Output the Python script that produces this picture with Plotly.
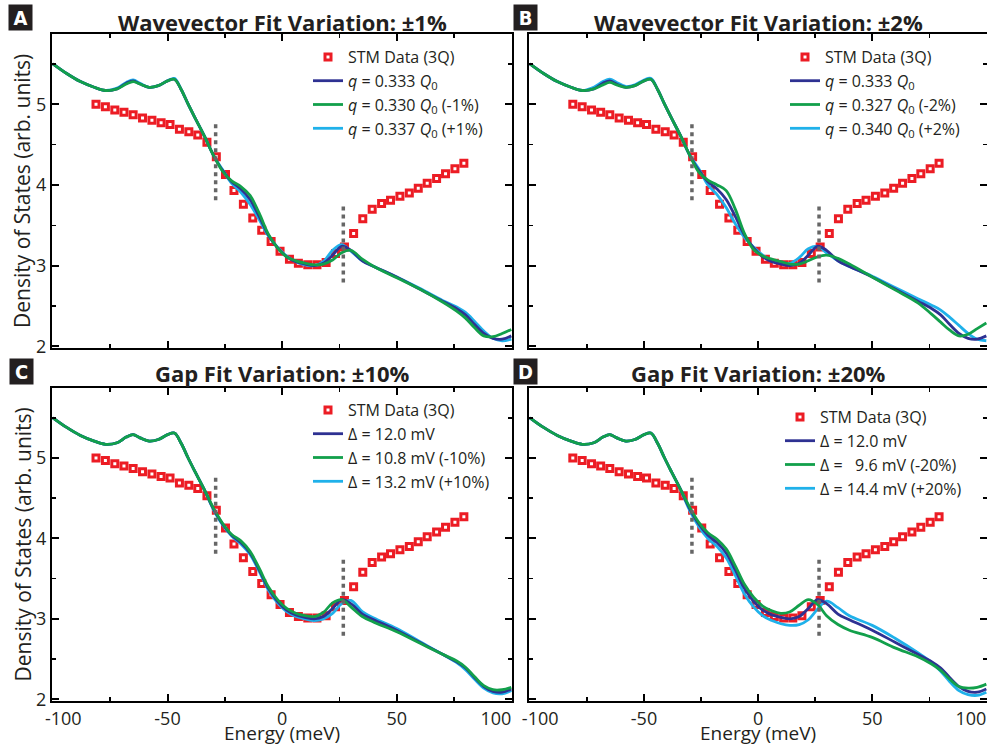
import plotly.graph_objects as go

# ---------------- data ----------------
stm_energy = [-81.2, -77.1, -73.0, -69.0, -65.0, -60.9, -56.8, -52.8, -48.9, -44.8,
              -40.7, -36.8, -32.8, -28.7, -24.7, -21.0, -16.9, -12.8, -8.9, -4.8,
              -0.9, 3.2, 7.1, 11.2, 15.2, 19.2, 23.3, 27.2, 31.2, 35.2,
              39.3, 43.4, 47.3, 51.4, 55.5, 59.4, 63.3, 67.4, 71.3, 75.4, 79.3]
stm_dos = [5.00, 4.97, 4.93, 4.90, 4.87, 4.83, 4.80, 4.77, 4.75, 4.69,
           4.66, 4.62, 4.53, 4.35, 4.13, 3.93, 3.76, 3.59, 3.44, 3.30,
           3.18, 3.08, 3.03, 3.01, 3.01, 3.04, 3.15, 3.23, 3.40, 3.58,
           3.70, 3.77, 3.81, 3.86, 3.90, 3.96, 4.02, 4.08, 4.14, 4.20, 4.27]

gap_energy = [-29.0, 26.7]
gap_lo = [3.81, 2.79]
gap_hi = [4.77, 3.75]

E = [-100, -94, -88, -82, -77, -72, -68, -65, -62, -58, -54, -50, -47, -44, -41,
     -38, -34, -30, -26, -22, -18, -14, -10, -6, -2, 2, 6, 10, 14, 18,
     22, 26, 30, 35, 40, 50, 60, 70, 76, 80, 84, 88, 92, 96, 100]

# best fit: q = 0.333 Q0, Delta = 12.0 mV
base = [5.50, 5.38, 5.28, 5.21, 5.17, 5.19, 5.26, 5.29, 5.25, 5.21, 5.23, 5.29, 5.31, 5.18, 5.00,
        4.83, 4.61, 4.37, 4.18, 4.04, 3.95, 3.82, 3.61, 3.38, 3.22, 3.11, 3.05, 3.02, 3.00, 3.03,
        3.13, 3.24, 3.19, 3.06, 2.99, 2.86, 2.71, 2.56, 2.47, 2.39, 2.27, 2.16, 2.10, 2.09, 2.13]

A_minus = [5.50, 5.38, 5.28, 5.21, 5.17, 5.19, 5.25, 5.28, 5.25, 5.21, 5.23, 5.29, 5.31, 5.18, 5.00,
           4.83, 4.61, 4.37, 4.17, 4.05, 3.98, 3.87, 3.65, 3.39, 3.22, 3.11, 3.06, 3.03, 3.01, 3.02,
           3.07, 3.16, 3.19, 3.08, 2.99, 2.85, 2.71, 2.55, 2.44, 2.35, 2.23, 2.13, 2.12, 2.16, 2.21]
A_plus = [5.50, 5.38, 5.28, 5.21, 5.17, 5.20, 5.27, 5.30, 5.26, 5.21, 5.23, 5.29, 5.32, 5.18, 5.00,
          4.83, 4.61, 4.37, 4.19, 4.02, 3.91, 3.76, 3.57, 3.37, 3.23, 3.12, 3.05, 3.01, 3.00, 3.05,
          3.19, 3.26, 3.18, 3.06, 2.99, 2.86, 2.72, 2.57, 2.49, 2.42, 2.31, 2.19, 2.10, 2.07, 2.09]

B_minus = [5.50, 5.38, 5.28, 5.21, 5.17, 5.19, 5.24, 5.27, 5.24, 5.21, 5.23, 5.29, 5.31, 5.18, 5.00,
           4.83, 4.61, 4.37, 4.16, 4.06, 4.00, 3.93, 3.70, 3.40, 3.20, 3.12, 3.08, 3.05, 3.02, 3.02,
           3.06, 3.11, 3.13, 3.09, 3.02, 2.86, 2.70, 2.54, 2.40, 2.30, 2.20, 2.13, 2.15, 2.22, 2.29]
B_plus = [5.50, 5.38, 5.28, 5.21, 5.17, 5.21, 5.28, 5.31, 5.27, 5.22, 5.24, 5.30, 5.32, 5.18, 5.00,
          4.83, 4.61, 4.37, 4.20, 4.00, 3.88, 3.72, 3.52, 3.35, 3.23, 3.13, 3.06, 3.03, 3.03, 3.10,
          3.21, 3.24, 3.16, 3.06, 2.99, 2.87, 2.73, 2.59, 2.51, 2.45, 2.36, 2.26, 2.16, 2.09, 2.07]

C_minus = [5.50, 5.38, 5.28, 5.21, 5.17, 5.19, 5.26, 5.29, 5.25, 5.21, 5.23, 5.29, 5.31, 5.18, 5.00,
           4.83, 4.61, 4.38, 4.19, 4.05, 3.97, 3.84, 3.63, 3.40, 3.24, 3.13, 3.07, 3.04, 3.03, 3.08,
           3.20, 3.24, 3.15, 3.03, 2.96, 2.84, 2.70, 2.56, 2.48, 2.40, 2.28, 2.17, 2.12, 2.12, 2.15]
C_plus = [5.50, 5.38, 5.28, 5.21, 5.17, 5.19, 5.26, 5.29, 5.25, 5.21, 5.23, 5.29, 5.31, 5.18, 5.00,
          4.83, 4.61, 4.36, 4.17, 4.03, 3.93, 3.80, 3.59, 3.36, 3.20, 3.09, 3.03, 3.00, 2.98, 3.00,
          3.07, 3.19, 3.23, 3.09, 3.01, 2.88, 2.72, 2.56, 2.46, 2.37, 2.25, 2.14, 2.08, 2.07, 2.11]

D_minus = [5.50, 5.38, 5.28, 5.21, 5.17, 5.19, 5.26, 5.29, 5.25, 5.21, 5.23, 5.29, 5.31, 5.18, 5.00,
           4.83, 4.61, 4.39, 4.20, 4.07, 3.99, 3.87, 3.66, 3.43, 3.27, 3.16, 3.10, 3.07, 3.09, 3.17,
           3.24, 3.18, 3.04, 2.93, 2.86, 2.77, 2.64, 2.53, 2.44, 2.36, 2.25, 2.16, 2.14, 2.15, 2.19]
D_plus = [5.50, 5.38, 5.28, 5.21, 5.17, 5.19, 5.26, 5.29, 5.25, 5.21, 5.23, 5.29, 5.31, 5.18, 5.00,
          4.83, 4.61, 4.35, 4.15, 4.00, 3.90, 3.76, 3.54, 3.31, 3.15, 3.04, 2.98, 2.94, 2.92, 2.93,
          2.99, 3.12, 3.22, 3.14, 3.04, 2.92, 2.76, 2.58, 2.46, 2.35, 2.22, 2.11, 2.06, 2.05, 2.09]

titles = ["Wavevector Fit Variation: \u00b11%", "Wavevector Fit Variation: \u00b12%",
          "Gap Fit Variation: \u00b110%", "Gap Fit Variation: \u00b120%"]
panel_letters = ["A", "B", "C", "D"]
legend_names = [
    ["<i>q</i> = 0.333 <i>Q</i><sub>0</sub>", "<i>q</i> = 0.330 <i>Q</i><sub>0</sub> (-1%)", "<i>q</i> = 0.337 <i>Q</i><sub>0</sub> (+1%)"],
    ["<i>q</i> = 0.333 <i>Q</i><sub>0</sub>", "<i>q</i> = 0.327 <i>Q</i><sub>0</sub> (-2%)", "<i>q</i> = 0.340 <i>Q</i><sub>0</sub> (+2%)"],
    ["\u0394 = 12.0 mV", "\u0394 = 10.8 mV (-10%)", "\u0394 = 13.2 mV (+10%)"],
    ["\u0394 = 12.0 mV", "\u0394 = \u00a0\u00a09.6 mV (-20%)", "\u0394 = 14.4 mV (+20%)"],
]
variants = [(A_minus, A_plus), (B_minus, B_plus), (C_minus, C_plus), (D_minus, D_plus)]
x_ticks = [-100, -50, 0, 50, 100]
x_ticktext = ["\u2007\u2007-100", "-50", "0", "50", "100\u2007\u2007\u2007"]
y_ticks = [2, 3, 4, 5]
y_ticktext = ["2", "3", "4", "5"]

# ---------------- style ----------------
FONT = "Open Sans"
TXT = "#231f20"
NAVY = "#2e3192"
GREEN = "#12a04b"
CYAN = "#1fb1ea"
RED = "#ec1c24"
W, H = 987, 752
xdom = [[52 / W, 512 / W], [529 / W, 987 / W]]
ydom = [[1 - 348 / H, 1 - 34 / H], [1 - 701 / H, 1 - 388 / H]]
legend_pos = [(308, 40), (785, 40), (308, 393), (780, 400)]
letter_pos = [(20, 18), (525, 17), (21, 371), (525, 371)]
title_y = [22, 373]

fig = go.Figure()
for i in range(4):
    row, col = divmod(i, 2)
    ax = "" if i == 0 else str(i + 1)
    xa, ya = "x" + ax, "y" + ax
    lg = "legend" + ("" if i == 0 else str(i + 1))
    minus, plus = variants[i]
    fig.add_trace(go.Scatter(x=stm_energy, y=stm_dos, mode="markers", name="STM Data (3Q)",
                             marker=dict(symbol="square", size=6, color="white",
                                         line=dict(color=RED, width=3)),
                             xaxis=xa, yaxis=ya, legend=lg, legendrank=1))
    fig.add_trace(go.Scatter(x=E, y=plus, mode="lines", name=legend_names[i][2],
                             line=dict(color=CYAN, width=2.8, shape="spline", smoothing=1.0),
                             xaxis=xa, yaxis=ya, legend=lg, legendrank=4))
    fig.add_trace(go.Scatter(x=E, y=base, mode="lines", name=legend_names[i][0],
                             line=dict(color=NAVY, width=2.8, shape="spline", smoothing=1.0),
                             xaxis=xa, yaxis=ya, legend=lg, legendrank=2))
    fig.add_trace(go.Scatter(x=E, y=minus, mode="lines", name=legend_names[i][1],
                             line=dict(color=GREEN, width=2.8, shape="spline", smoothing=1.0),
                             xaxis=xa, yaxis=ya, legend=lg, legendrank=3))
    for ge, lo, hi in zip(gap_energy, gap_lo, gap_hi):
        fig.add_trace(go.Scatter(x=[ge, ge], y=[lo, hi], mode="lines", showlegend=False,
                                 line=dict(color="#666666", width=3.5, dash="4px,4px"),
                                 xaxis=xa, yaxis=ya))
    common = dict(showline=True, linewidth=2, linecolor="black", mirror="allticks",
                  ticks="inside", ticklen=7, tickwidth=2, tickcolor="black",
                  showgrid=False, zeroline=False, automargin=False,
                  ticklabeloverflow="allow",
                  tickfont=dict(family=FONT, size=18, color=TXT))
    fig.update_layout(**{
        "xaxis" + ax: dict(common, domain=xdom[col], range=[-100.4, 100.3], anchor=ya,
                           tickvals=x_ticks, ticktext=x_ticktext, showticklabels=(row == 1),
                           minor=dict(ticks="inside", ticklen=4, tickwidth=1.5, dtick=25,
                                      tick0=0, tickcolor="black")),
        "yaxis" + ax: dict(common, domain=ydom[row], range=[1.98, 5.87], anchor=xa,
                           tickvals=y_ticks, ticktext=y_ticktext, showticklabels=(col == 0),
                           minor=dict(ticks="inside", ticklen=4, tickwidth=1.5, dtick=0.5,
                                      tick0=0, tickcolor="black")),
        lg: dict(x=legend_pos[i][0] / W, y=1 - legend_pos[i][1] / H, xanchor="left",
                 yanchor="top", bgcolor="rgba(0,0,0,0)", tracegroupgap=0,
                 font=dict(family=FONT, size=16, color=TXT)),
    })
    cx = (xdom[col][0] + xdom[col][1]) / 2
    fig.add_annotation(text="<b>" + titles[i] + "</b>", x=cx, y=1 - title_y[row] / H,
                       xref="paper", yref="paper", showarrow=False, xanchor="center",
                       yanchor="middle", font=dict(family=FONT, size=22, color=TXT))
    fig.add_annotation(text="<b>" + panel_letters[i] + "</b>",
                       x=letter_pos[i][0] / W, y=1 - letter_pos[i][1] / H,
                       xref="paper", yref="paper", showarrow=False, xanchor="center",
                       yanchor="middle", bgcolor=TXT, width=21, height=23,
                       font=dict(family="DejaVu Sans Condensed", size=20, color="white"))
    if col == 0:
        fig.add_annotation(text="Density of States (arb. units)", x=22 / W,
                           y=(ydom[row][0] + ydom[row][1]) / 2, xref="paper", yref="paper",
                           showarrow=False, textangle=-90, xanchor="center", yanchor="middle",
                           font=dict(family=FONT, size=21, color=TXT))
    if row == 1:
        fig.add_annotation(text="Energy (meV)", x=cx, y=1 - 733 / H, xref="paper", yref="paper",
                           showarrow=False, xanchor="center", yanchor="middle",
                           font=dict(family=FONT, size=19, color=TXT))

fig.update_layout(width=W, height=H, margin=dict(l=0, r=0, t=0, b=0, autoexpand=False),
                  plot_bgcolor="white", paper_bgcolor="white", showlegend=True,
                  hovermode=False)
fig.write_html("out.html", config={"displayModeBar": False, "staticPlot": True},
               post_script="document.body.style.margin='0px';")
